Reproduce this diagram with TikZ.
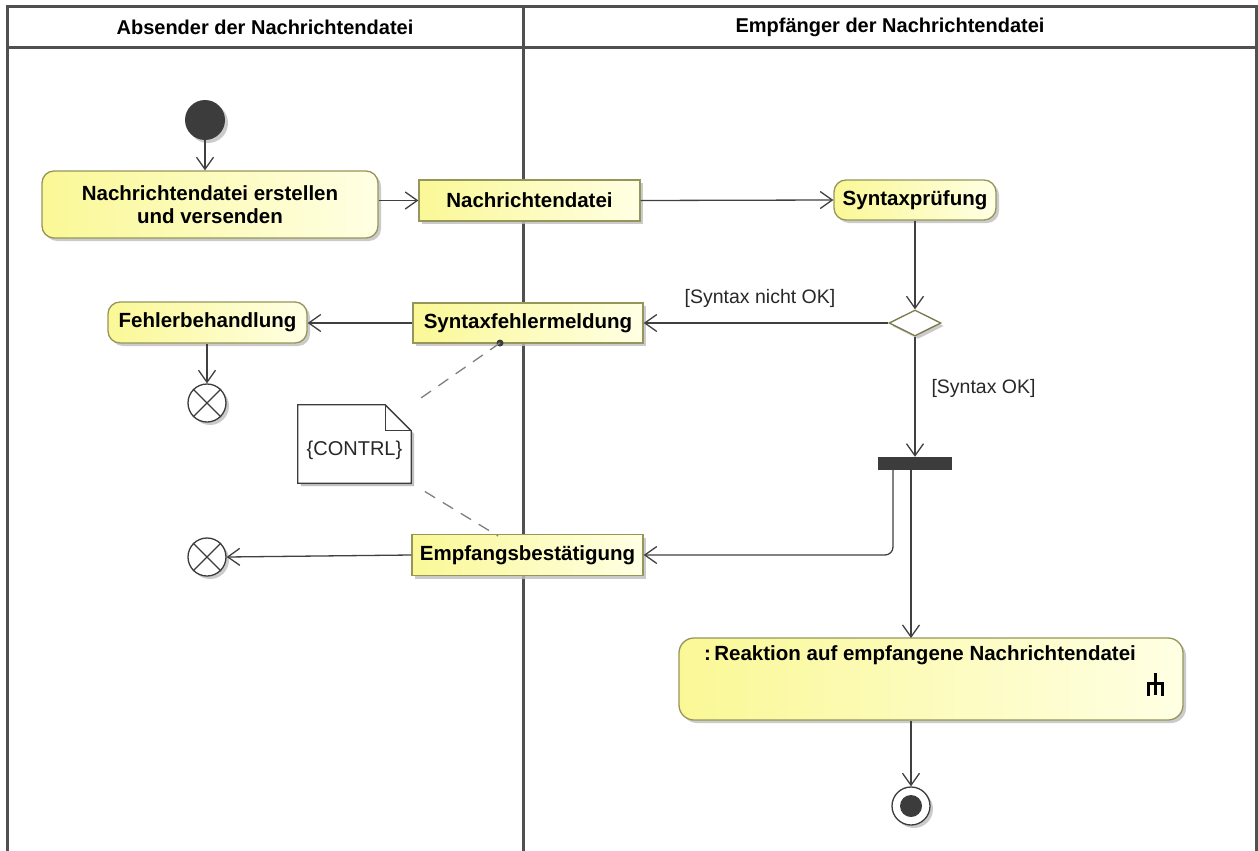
\documentclass[tikz,border=0pt]{standalone}
\usepackage{fontspec}
\setmainfont{Liberation Sans}
\usetikzlibrary{shapes.geometric,arrows.meta,shadows,calc}
\definecolor{lanec}{RGB}{80,80,80}
\definecolor{linec}{RGB}{64,64,64}
\definecolor{borderc}{RGB}{150,150,90}
\definecolor{yelL}{RGB}{250,248,150}
\definecolor{yelR}{RGB}{255,255,228}
\definecolor{darkc}{RGB}{60,60,60}
\definecolor{txtc}{RGB}{40,40,40}
\tikzset{
  lane/.style={line width=3pt, draw=lanec},
  flow/.style={draw=linec, line width=1.3pt, -{Straight Barb[length=12pt,width=17pt,line width=1.3pt]}},
  shadowed/.style={drop shadow={shadow xshift=3pt, shadow yshift=-3pt, fill=black!25, opacity=0.8}},
  action/.style={shadowed, draw=borderc, line width=1.3pt, rounded corners=12pt, left color=yelL, right color=yelR, font=\fontsize{20.5}{23.5}\selectfont\bfseries, text=black, align=center, inner sep=0pt},
  objnode/.style={shadowed, draw=borderc, line width=1.3pt, left color=yelL, right color=yelR, font=\fontsize{20.5}{23.5}\selectfont\bfseries, text=black, align=center, inner sep=0pt},
  lanetitle/.style={font=\fontsize{20}{23}\selectfont\bfseries, text=black},
  guard/.style={font=\fontsize{19.5}{22}\selectfont, text=txtc},
  finalx/.style={circle, draw=darkc, line width=1.3pt, fill=white, minimum size=38pt, inner sep=0pt, shadowed},
  notelink/.style={draw=gray, line width=1.3pt, dash pattern=on 12pt off 9pt},
}
\begin{document}
\begin{tikzpicture}[x=1pt,y=-1pt]
\useasboundingbox (0,0) rectangle (1258,851);
\fill[white] (0,0) rectangle (1258,851);
% swimlanes
\draw[lane] (7,851) -- (7,7) -- (1256,7) -- (1256,851);
\draw[lane] (7,48) -- (1256,48);
\draw[lane] (523,7) -- (523,851);
\node[lanetitle] (t1) at (265,27) {Absender der Nachrichtendatei};
\node[lanetitle] (t2) at (890,27) {Empfänger der Nachrichtendatei};

% nodes
\node[circle, fill=darkc, minimum size=40pt, inner sep=0pt, shadowed] (init) at (205,120) {};
\node[action, minimum width=336pt, minimum height=67pt] (act1) at (210,204.5) {Nachrichtendatei erstellen\\und versenden};
\node[objnode, minimum width=221pt, minimum height=41pt] (obj1) at (529.5,200.5) {Nachrichtendatei};
\node[action, minimum width=162pt, minimum height=40pt] (syn) at (915,200) {Syntaxprüfung};
\node[diamond, draw=borderc!80!black, line width=1.3pt, fill=white, shape aspect=2, minimum width=52pt, minimum height=26pt, inner sep=0pt, shadowed] (dec) at (915,323) {};
\node[objnode, minimum width=230pt, minimum height=40pt] (sfm) at (528,323) {Syntaxfehlermeldung};
\node[action, minimum width=199pt, minimum height=41pt] (feh) at (207.5,322.5) {Fehlerbehandlung};
\node[finalx] (ff1) at (207,403) {};
\draw[darkc, line width=1.3pt] (ff1.north west) -- (ff1.south east) (ff1.north east) -- (ff1.south west);
\node[rectangle, fill=darkc, minimum width=74pt, minimum height=13pt, inner sep=0pt] (fork) at (915,463.5) {};
\node[objnode, minimum width=231pt, minimum height=41pt] (emp) at (527.5,555) {Empfangsbestätigung};
\node[finalx] (ff2) at (207,557) {};
\draw[darkc, line width=1.3pt] (ff2.north west) -- (ff2.south east) (ff2.north east) -- (ff2.south west);
\node[action, rounded corners=15pt, minimum width=504pt, minimum height=82pt] (reak) at (931,679) {};
\node[font=\fontsize{20.5}{23.5}\selectfont\bfseries, text=black] (reakt) at (920,655) {:\,Reaktion auf empfangene Nachrichtendatei};
\draw[black, line width=3pt] (1155,673) -- (1155,695) (1148,696) -- (1148,683) -- (1162,683) -- (1162,696);
\node[circle, draw=darkc, line width=1.3pt, fill=white, minimum size=38pt, inner sep=0pt, shadowed] (af) at (911,806) {};
\node[circle, fill=darkc, minimum size=22pt, inner sep=0pt] (afin) at (911,806) {};

% note
\node[minimum width=113pt, minimum height=78pt, inner sep=0pt] (note) at (354.5,444) {};
\fill[black!25] ($(note.north west)+(3,3)$) -- ($(note.north east)+(-23,3)$) -- ($(note.north east)+(3,29)$) -- ($(note.south east)+(3,3)$) -- ($(note.south west)+(3,3)$) -- cycle;
\draw[darkc, line width=1.3pt, fill=white] (note.north west) -- ($(note.north east)+(-26,0)$) -- ($(note.north east)+(0,26)$) -- (note.south east) -- (note.south west) -- cycle;
\draw[darkc, line width=1.3pt] ($(note.north east)+(-26,0)$) -- ($(note.north east)+(-26,26)$) -- ($(note.north east)+(0,26)$);
\node[font=\fontsize{20}{23}\selectfont, text=txtc] (notet) at (354.5,450) {\{CONTRL\}};

% connectors
\draw[flow] (init.south) -- (init.south |- act1.north);
\draw[flow] (act1.east |- obj1.west) -- (obj1.west);
\draw[flow] (obj1.east) -- (syn.west);
\draw[flow] (syn.south) -- (dec.north);
\draw[flow] (dec.west) -- (sfm.east);
\node[guard] (g1) at (760,298) {[Syntax nicht OK]};
\draw[flow] (sfm.west) -- (feh.east |- sfm.west);
\draw[flow] (ff1.north |- feh.south) -- (ff1.north);
\draw[flow] (dec.south) -- (fork.north);
\node[guard, anchor=west] (g2) at (928,388) {[Syntax OK]};
\draw[flow, rounded corners=8pt] (893,470) |- (emp.east);
\draw[flow] (911,470) -- (911,638);
\draw[flow] (emp.west) -- (ff2.east);
\draw[flow] (af.north |- reak.south) -- (af.north);
\coordinate (dot1) at (500,343);
\fill[darkc] (dot1) circle (3.5pt);
\draw[notelink, shorten >=8pt] (dot1) -- (note.north east);
\coordinate (dot2) at (498,536);
\draw[notelink, shorten <=16pt] (note.south east) -- (dot2);
\end{tikzpicture}
\end{document}
